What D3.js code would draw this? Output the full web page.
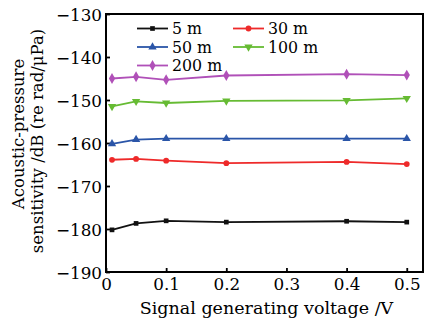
<!DOCTYPE html>
<html><head><meta charset="utf-8">
<script src="https://cdn.jsdelivr.net/npm/d3@7"></script>
<style>body{margin:0;background:#fff;} text{font-family:"DejaVu Serif",serif;}</style>
</head><body><svg id="c" width="435" height="324"></svg>
<script>
const voltages = [0.01, 0.05, 0.1, 0.2, 0.4, 0.5];
const seriesNames = ["5 m", "30 m", "50 m", "100 m", "200 m"];
const s5 = [-180.2, -178.7, -178.1, -178.4, -178.2, -178.4];
const s30 = [-163.9, -163.7, -164.1, -164.7, -164.4, -164.9];
const s50 = [-160.2, -159.2, -159.0, -159.0, -159.0, -159.0];
const s100 = [-151.5, -150.3, -150.7, -150.2, -150.1, -149.6];
const s200 = [-145.0, -144.6, -145.3, -144.3, -144.0, -144.2];
const xTicks = [0, 0.1, 0.2, 0.3, 0.4, 0.5];
const yTicks = [-190, -180, -170, -160, -150, -140, -130];

const colors = ["#111111", "#ee2a2a", "#2a55a8", "#66bb33", "#b050b8"];
const symbols = [d3.symbolSquare, d3.symbolCircle, d3.symbolTriangle, "down", d3.symbolDiamond];
const seriesVals = [s5, s30, s50, s100, s200];

const svg = d3.select("#c");
const L = 106, R = 423, T = 14, B = 272;
const x = d3.scaleLinear().domain([0, 0.527]).range([L, R]);
const y = d3.scaleLinear().domain([-190, -130]).range([B, T]);
const FS = 16.8;

svg.append("g").attr("transform", `translate(0,${B})`)
  .call(d3.axisBottom(x).tickValues(xTicks).tickSize(-4).tickFormat(d => d === 0 ? "0" : d3.format(".1f")(d)).tickPadding(8))
  .call(g => { g.select(".domain").remove(); g.selectAll("line").attr("stroke", "#000").attr("stroke-width", 1.8);
    g.selectAll("text").attr("font-size", FS).attr("fill", "#000").attr("font-family", "DejaVu Serif").attr("dy", "0.6em"); });
svg.append("g").attr("transform", `translate(${L},0)`)
  .call(d3.axisLeft(y).tickValues(yTicks).tickSize(-4).tickFormat(d => "\u2212" + Math.abs(d)).tickPadding(4))
  .call(g => { g.select(".domain").remove(); g.selectAll("line").attr("stroke", "#000").attr("stroke-width", 1.8);
    g.selectAll("text").attr("font-size", FS).attr("fill", "#000").attr("font-family", "DejaVu Serif").attr("dy", "0.36em"); });

svg.append("rect").attr("x", L).attr("y", T).attr("width", R - L).attr("height", B - T)
  .attr("fill", "none").attr("stroke", "#000").attr("stroke-width", 2);

function sym(i, size) {
  if (symbols[i] === "down") return d3.symbol().type(d3.symbolTriangle).size(size);
  return d3.symbol().type(symbols[i]).size(size);
}
const sizes = [22, 26, 30, 30, 34];

seriesVals.forEach((vals, i) => {
  const pts = vals.map((v, j) => [voltages[j], v]);
  svg.append("path").datum(pts)
    .attr("d", d3.line().x(d => x(d[0])).y(d => y(d[1])))
    .attr("fill", "none").attr("stroke", colors[i]).attr("stroke-width", 1.8);
  svg.append("g").selectAll("path").data(pts).join("path")
    .attr("d", sym(i, sizes[i])())
    .attr("transform", d => `translate(${x(d[0])},${y(d[1])})` + (symbols[i] === "down" ? " rotate(180)" : ""))
    .attr("fill", colors[i]);
});

const legPos = [[137, 28.5], [233, 28.5], [137, 47], [233, 47], [137, 65.5]];
seriesNames.forEach((n, i) => {
  const [lx, ly] = legPos[i];
  const g = svg.append("g");
  g.append("line").attr("x1", lx).attr("x2", lx + 31).attr("y1", ly).attr("y2", ly)
    .attr("stroke", colors[i]).attr("stroke-width", 1.8);
  g.append("path").attr("d", sym(i, sizes[i])())
    .attr("transform", `translate(${lx + 15.5},${ly})` + (symbols[i] === "down" ? " rotate(180)" : ""))
    .attr("fill", colors[i]);
  g.append("text").attr("x", lx + 35).attr("y", ly).attr("dy", "0.35em")
    .attr("font-size", 15.8).text(n);
});

svg.append("text").attr("x", (L + R) / 2 + 2).attr("y", 314).attr("text-anchor", "middle")
  .attr("font-size", 17.5).text("Signal generating voltage /V");
const yt = svg.append("text").attr("transform", `translate(0,${(T + B) / 2}) rotate(-90)`)
  .attr("text-anchor", "middle").attr("font-size", 16.5);
yt.append("tspan").attr("x", 9).attr("y", 24).text("Acoustic-pressure");
yt.append("tspan").attr("x", 2).attr("y", 43).text("sensitivity /dB (re rad/\u03bcPa)");
</script></body></html>
